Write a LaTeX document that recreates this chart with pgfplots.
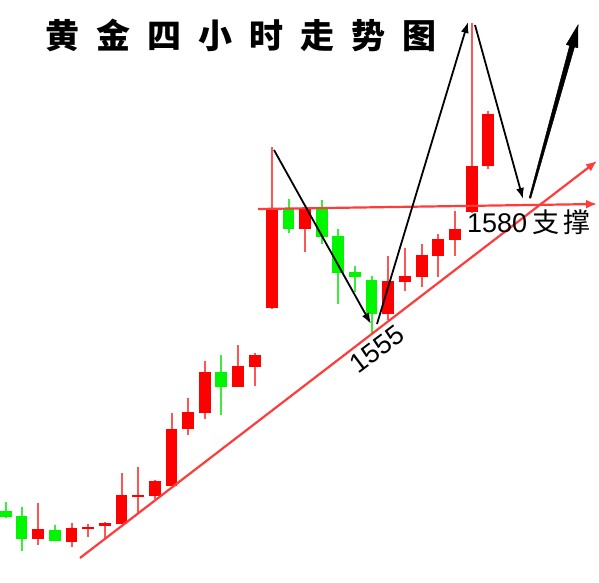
\documentclass[border=0pt]{standalone}
\usepackage{pgfplots}
\pgfplotsset{compat=1.18}
\usepackage{pgfplotstable}
\usepackage{fontspec}
\setmainfont{Liberation Sans}
\newfontfamily\cjk{Noto Sans CJK SC}
\usetikzlibrary{arrows.meta}

\definecolor{bodyred}{RGB}{255,0,0}
\definecolor{wickred}{RGB}{255,85,85}
\definecolor{bodygreen}{RGB}{0,245,0}
\definecolor{wickgreen}{RGB}{60,235,60}
\definecolor{trendred}{RGB}{255,60,60}

% rising candles (close above open)
\pgfplotstableread{
x     open high low close
38    43   79   37  53
71.5  40   59   35  54
88    54   58   45  55
105   56   60   43  59
121.5 58   109  58  87
138   86   115  68  87
155   86   102  83  101
171.5 96   169  96  153
188   153  184  147 170
205   169  221  163 210
238   195  237  195 216
255   215  229  196 227
272   274  435  273 373
305   353  373  330 373
388   268  326  262 301
405   300  334  291 306
422   305  338  295 327
438   326  348  305 343
455   342  371  326 353
472   370  559  369 416
488   416  471  413 468
}\upcandles

% falling candles (close below open)
\pgfplotstableread{
x     open high low close
6     71   80   64  65
21.5  66   75   31  43
55    52   57   41  41
221   210  227  167 195
288.5 373  383  349 353
322   373  382  338 345
338   346  353  278 309
355   310  316  290 305
371.5 302  306  249 268
}\downcandles

\pgfplotsset{
  wick/.style={draw=none, mark=none, mark size=0pt, forget plot,
    error bars/.cd, y dir=both, y explicit, error mark=none,
    error bar style={line width=2pt, draw=#1}},
  body/.style={draw=none, mark=none, mark size=0pt, forget plot,
    error bars/.cd, y dir=both, y explicit, error mark=none,
    error bar style={line width=11.5pt, draw=#1, line cap=butt}},
}

\begin{document}
\begin{tikzpicture}
\begin{axis}[
  width=599pt, height=582pt, scale only axis,
  xmin=0, xmax=599, ymin=0, ymax=582,
  axis line style={draw=none}, ticks=none,
  clip=false,
]
% wicks
\addplot[wick=wickred] table[x=x,
  y expr={(\thisrow{high}+\thisrow{low})/2},
  y error expr={(\thisrow{high}-\thisrow{low})/2}] {\upcandles};
\addplot[wick=wickgreen] table[x=x,
  y expr={(\thisrow{high}+\thisrow{low})/2},
  y error expr={(\thisrow{high}-\thisrow{low})/2}] {\downcandles};
% bodies
\addplot[body=bodyred] table[x=x,
  y expr={(\thisrow{open}+\thisrow{close})/2},
  y error expr={max(abs(\thisrow{close}-\thisrow{open})/2,1)}] {\upcandles};
\addplot[body=bodygreen] table[x=x,
  y expr={(\thisrow{open}+\thisrow{close})/2},
  y error expr={max(abs(\thisrow{close}-\thisrow{open})/2,1)}] {\downcandles};

% support level and rising trend line
\addplot[trendred, line width=2.2pt, -{Latex[length=11pt,width=9pt]}]
  coordinates {(258,373) (597,378)};
\addplot[trendred, line width=2.2pt, -{Latex[length=11pt,width=9pt]}]
  coordinates {(80,24) (597,421)};

% projected swings
\addplot[black, line width=1.8pt, -{Latex[length=11pt,width=8pt]}]
  coordinates {(274,432) (371,258)};
\addplot[black, line width=1.8pt, -{Latex[length=11pt,width=8pt]}]
  coordinates {(377,258) (468,560)};
\addplot[black, line width=1.8pt, -{Latex[length=11pt,width=8pt]}]
  coordinates {(475,557) (523,383)};
\addplot[black, fill=black, line width=0.5pt]
  coordinates {(529.2,384.2) (569.7,536.5) (566.3,537.4) (578,557)
               (577.9,534.2) (574.5,535.1) (530.8,383.8)} -- cycle;

% labels
\node[rotate=37, anchor=center, font=\fontsize{27}{27}\selectfont]
  at (axis cs:377,233) {1555};
\node[anchor=base west, inner sep=0pt, font=\fontsize{27}{27}\selectfont]
  at (axis cs:467,350) {1580{\cjk\hspace{5pt}支\hspace{4pt}撑}};
\node[anchor=center, inner sep=0pt, font=\cjk\bfseries\fontsize{34}{34}\selectfont]
  at (axis cs:240.5,547) {黄\hspace{17pt}金\hspace{17pt}四\hspace{17pt}小\hspace{17pt}时\hspace{17pt}走\hspace{17pt}势\hspace{17pt}图};
\end{axis}
\end{tikzpicture}
\end{document}
